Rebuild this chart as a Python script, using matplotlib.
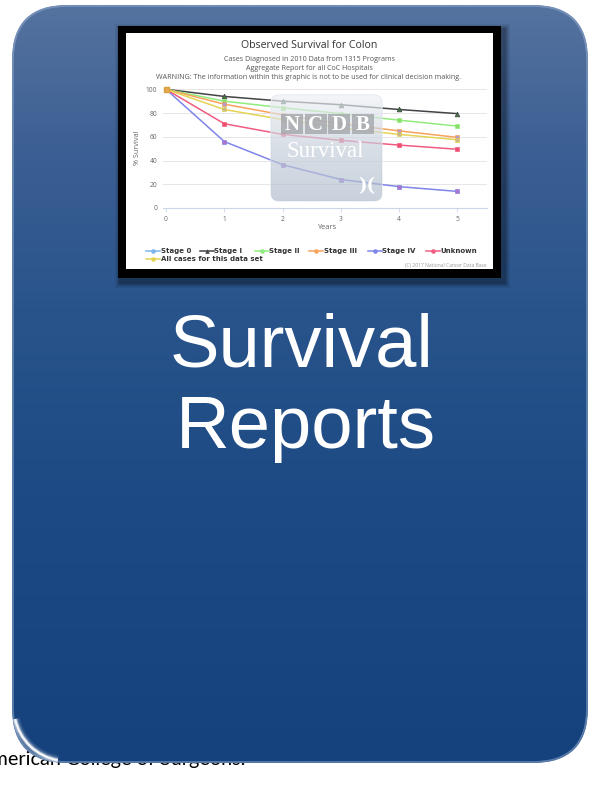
import numpy as np
import matplotlib
matplotlib.use("Agg")
import matplotlib.pyplot as plt
from matplotlib.patches import FancyBboxPatch, Rectangle, Arc
from matplotlib.colors import LinearSegmentedColormap
from matplotlib.lines import Line2D

# ---- survival data (% surviving by years since diagnosis) ----
years = [0, 1, 2, 3, 4, 5]
series_names = ["Stage 0", "Stage I", "Stage II", "Stage III", "Stage IV",
                "Unknown", "All cases for this data set"]
stage_0 = []
stage_i = [100, 94, 90, 87, 83, 79.5]
stage_ii = [100, 90, 84.5, 79.5, 74, 69]
stage_iii = [100, 87.5, 78.5, 71, 65, 59.5]
stage_iv = [100, 56, 36.5, 24, 18, 14]
unknown = [100, 71, 62, 57, 53, 49.5]
all_cases = [100, 83, 74.5, 67.5, 62, 57.5]
y_ticks = [0, 20, 40, 60, 80, 100]

series_values = [stage_0, stage_i, stage_ii, stage_iii, stage_iv, unknown, all_cases]
line_colors = ["#7cb5ec", "#434348", "#90ed7d", "#f7a35c", "#8085e9", "#f15c80", "#e4d354"]
marker_faces = ["#7cb5ec", "#3f7a3f", "#8fdc6a", "#b39ac8", "#b073c8", "#ef4f6e", "#c9b98a"]
marker_shapes = ["o", "^", "s", "s", "s", "s", "s"]

W, H = 589, 785
fig = plt.figure(figsize=(W / 100, H / 100), dpi=100)
fig.patch.set_facecolor("white")

# ---- background layer in pixel coordinates ----
bg = fig.add_axes([0, 0, 1, 1], zorder=0)
bg.set_xlim(0, W)
bg.set_ylim(H, 0)
bg.axis("off")

bg.text(245, 765, "American College of Surgeons.", ha="right", va="baseline",
        fontsize=14.3, family="Lato", color="black", zorder=1)

bx0, by0, bx1, by1 = 12, 5, 588, 763
box = FancyBboxPatch((bx0, by0), bx1 - bx0, by1 - by0,
                     boxstyle="round,pad=0,rounding_size=55",
                     facecolor="none", edgecolor="none", zorder=2)
bg.add_patch(box)
grad_cmap = LinearSegmentedColormap.from_list(
    "panel", [(0.0, "#55739f"), (0.18, "#3d6094"), (0.4, "#29548b"),
              (0.65, "#1d4a84"), (1.0, "#15417c")])
grad = np.linspace(0, 1, 256).reshape(-1, 1)
im = bg.imshow(grad, cmap=grad_cmap, aspect="auto",
               extent=[bx0, bx1, by1, by0], zorder=2, interpolation="bilinear")
im.set_clip_path(box)

# bevel rim
rim = FancyBboxPatch((bx0 + 1, by0 + 1), bx1 - bx0 - 2, by1 - by0 - 2,
                     boxstyle="round,pad=0,rounding_size=54",
                     facecolor="none", edgecolor="#8aa5cc", lw=1.3, alpha=0.6, zorder=3)
bg.add_patch(rim)
for lw, a in [(7, 0.1), (4.5, 0.2), (2.8, 0.45), (1.5, 0.9)]:
    arc = Arc((bx0 + 55, by1 - 55), 2 * 53, 2 * 53, theta1=100,
              theta2=168, color="white", lw=lw, alpha=a, zorder=3)
    arc.set_clip_path(box)
    bg.add_patch(arc)

# frame shadow
for i, a in enumerate([0.05, 0.06, 0.08, 0.1, 0.12]):
    g = 6 - i
    bg.add_patch(Rectangle((118 - g + 3, 26 - g + 4), 383 + 2 * g, 252 + 2 * g,
                           facecolor="black", edgecolor="none", alpha=a, zorder=3))
bg.add_patch(Rectangle((118, 26), 383, 252, facecolor="black", edgecolor="none", zorder=4))
bg.add_patch(Rectangle((126, 33), 367, 236, facecolor="white", edgecolor="none", zorder=4))

# chart titles
bg.text(309, 45.7, "Observed Survival for Colon", ha="center", va="center",
        fontsize=7.6, family="Open Sans", color="#333333", zorder=5)
subs = ["Cases Diagnosed in 2010 Data from 1315 Programs",
        "Aggregate Report for all CoC Hospitals",
        "WARNING: The information within this graphic is not to be used for clinical decision making."]
for yy, s in zip([59.3, 68.5, 77.7], subs):
    bg.text(309, yy, s, ha="center", va="center", fontsize=5.1,
            family="Open Sans", color="#555555", zorder=5)

bg.text(137.5, 148, "% Survival", rotation=90, ha="center", va="center",
        fontsize=5.2, family="Open Sans", color="#666666", zorder=5)
bg.text(326.5, 227.7, "Years", ha="center", va="center",
        fontsize=5.4, family="Open Sans", color="#666666", zorder=5)
bg.text(487, 265.7, "(C) 2017 National Cancer Data Base", ha="right", va="center",
        fontsize=3.6, family="Open Sans", color="#999999", zorder=5)

# legend
leg_pos = [(153.3, 251), (206.7, 251), (261.7, 251), (316, 251), (375, 251),
           (433.3, 251), (153.3, 259)]
for (lx, ly), name, c, mf, ms in zip(leg_pos, series_names, line_colors,
                                      marker_faces, marker_shapes):
    bg.add_line(Line2D([lx - 7, lx + 7], [ly, ly], color=c, lw=1.1, zorder=5))
    bg.add_line(Line2D([lx], [ly], marker="o" if ms == "s" else ms, color=c,
                       markersize=3.3, markeredgewidth=0, zorder=6))
    bg.text(lx + 7.5, ly, name, ha="left", va="center", fontsize=5.0,
            fontweight="bold", family="DejaVu Sans", color="#333333", zorder=6)

# ---- chart axes ----
x0_px, dx_px = 166.0, 58.26
left_px, right_px = 163.0, 487.0
top_px, bot_px = 89.3, 208.0
ax = fig.add_axes([left_px / W, 1 - bot_px / H, (right_px - left_px) / W,
                   (bot_px - top_px) / H], zorder=1)
ax.patch.set_alpha(0)
ax.set_xlim((left_px - x0_px) / dx_px, (right_px - x0_px) / dx_px)
ax.set_ylim(0, 100)
for sp in ["top", "right", "left"]:
    ax.spines[sp].set_visible(False)
ax.spines["bottom"].set_color("#ccd6eb")
ax.spines["bottom"].set_linewidth(0.8)
ax.set_yticks(y_ticks)
ax.set_xticks(years)
ax.set_xticklabels([str(v) for v in years])
ax.grid(axis="y", color="#e6e6e6", lw=0.7)
ax.tick_params(axis="y", length=0, pad=4, labelsize=4.8, labelcolor="#666666")
ax.tick_params(axis="x", length=3, width=0.6, color="#ccd6eb", pad=3,
               labelsize=4.8, labelcolor="#666666")
for lab in ax.get_xticklabels() + ax.get_yticklabels():
    lab.set_family("Open Sans")

for vals, c, mf, ms in zip(series_values, line_colors, marker_faces, marker_shapes):
    if not vals:
        continue
    ax.plot(years[:len(vals)], vals, color=c, lw=1.1, marker=ms, markersize=3.4,
            markerfacecolor=mf, markeredgecolor=c, markeredgewidth=0.5,
            clip_on=False, zorder=3)
# shared starting point marker
ax.plot([years[0]], [all_cases[0]], marker="s", markersize=3.6,
        markerfacecolor="#e8a850", markeredgecolor="#d9a040", clip_on=False, zorder=4)

# ---- watermark overlay ----
ov = fig.add_axes([0, 0, 1, 1], zorder=2)
ov.set_xlim(0, W)
ov.set_ylim(H, 0)
ov.axis("off")
wm = FancyBboxPatch((271, 95), 111, 106, boxstyle="round,pad=0,rounding_size=8",
                    facecolor="none", edgecolor="#e4e9f0", lw=0.8, zorder=5)
ov.add_patch(wm)
wm_cmap = LinearSegmentedColormap.from_list("wm", ["#eef1f5", "#c6cfdb", "#b0bccc"])
wim = ov.imshow(np.linspace(0, 1, 64).reshape(-1, 1), cmap=wm_cmap, aspect="auto",
                extent=[271, 382, 201, 95], alpha=0.68, zorder=5)
wim.set_clip_path(wm)
for i, letter in enumerate("NCDB"):
    lx = 281 + i * 23.6
    ov.add_patch(Rectangle((lx, 114), 22, 20, facecolor="#a3a6aa", edgecolor="none",
                           alpha=0.8, zorder=6))
    ov.text(lx + 11, 124.5, letter, ha="center", va="center", fontsize=15,
            family="Liberation Serif", fontweight="bold", color="white", zorder=7)
ov.text(325, 151.5, "Survival", ha="center", va="center", fontsize=16.5,
        family="Liberation Serif", color="white", zorder=7)
ov.text(367, 186, ")(", ha="center", va="center", fontsize=13,
        family="DejaVu Serif", fontweight="bold", color="white", zorder=7)

# ---- big caption ----
bg.text(302, 366.7, "Survival", ha="center", va="baseline", fontsize=53.5,
        family="Liberation Sans", color="white", zorder=6)
bg.text(306, 448.3, "Reports", ha="center", va="baseline", fontsize=53.5,
        family="Liberation Sans", color="white", zorder=6)

fig.savefig("out.png", dpi=100)
